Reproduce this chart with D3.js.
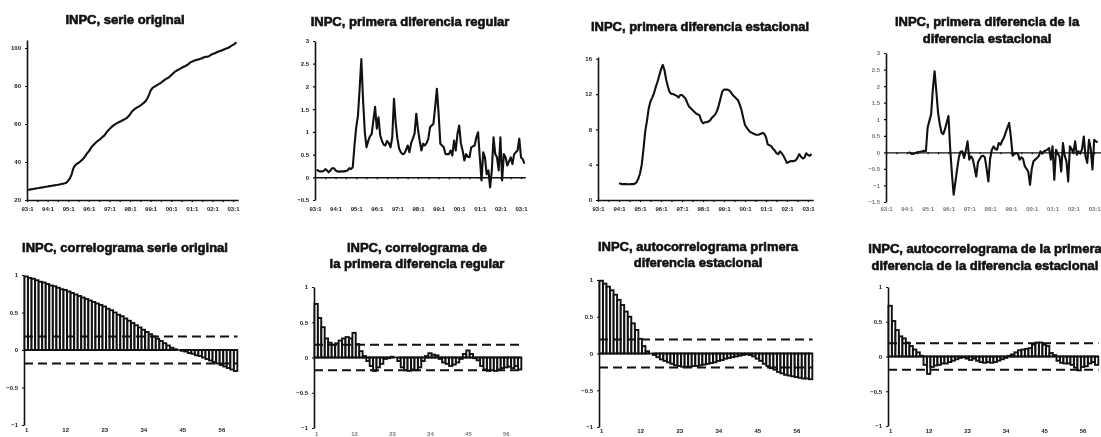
<!DOCTYPE html>
<html>
<head>
<meta charset="utf-8">
<script src="https://cdn.jsdelivr.net/npm/d3@7"></script>
<style>
  body { margin: 0; background: #fff; }
  svg { display: block; filter: grayscale(1); }
  .ttl { font: bold 13px "Liberation Sans", Arial, sans-serif; fill: #111; stroke: #111; stroke-width: 0.6px; }
  .ax text { font-family: "Liberation Sans", Arial, sans-serif; font-weight: bold; font-size: 6px; fill: #222; }
  .ax.faint text { fill: #777; }
  .ax line, .ax path { stroke: #111; }
</style>
</head>
<body>
<svg id="chart" width="1101" height="437"></svg>
<script>
// Monthly INPC, 93:1 – 03:3
const inpc = [
  25.3,25.4,25.6,25.7,25.9,26.0,26.2,26.3,26.5,26.6,26.8,27.0,
  27.1,27.3,27.4,27.6,27.7,27.9,28.0,28.2,28.4,28.6,28.8,29.1,
  30.2,31.4,33.5,36.7,38.2,39.0,39.6,40.2,41.1,42.0,43.2,44.6,
  45.6,47.0,48.3,49.2,50.1,50.9,51.6,52.4,53.2,53.9,55.2,56.3,
  57.3,58.2,59.0,59.7,60.2,60.7,61.2,61.6,62.1,62.6,63.1,63.9,
  65.1,66.4,67.3,68.1,68.6,69.1,69.7,70.4,71.1,71.9,73.3,75.2,
  77.5,78.9,79.5,80.0,80.6,81.1,81.7,82.4,83.1,83.7,84.2,84.8,
  85.7,86.6,87.4,88.0,88.5,89.0,89.5,90.0,90.4,90.9,91.5,92.3,
  92.8,93.1,93.5,93.8,94.0,94.3,94.6,95.1,95.3,95.4,95.7,96.3,
  96.8,97.1,97.5,97.9,98.3,98.6,98.9,99.3,99.7,100.0,100.5,101.1,
  101.6,102.2,103.0
];
// First regular difference, 93:2 – 03:3
const diffRegular = [
  0.17,0.14,0.13,0.13,0.14,0.18,0.15,0.11,0.15,0.2,0.2,
  0.15,0.13,0.12,0.13,0.13,0.13,0.14,0.15,0.2,0.18,0.22,0.7,
  1.1,1.35,1.95,2.6,1.7,1.0,0.66,0.8,0.9,0.95,1.25,1.55,
  1.07,1.32,0.92,0.8,0.72,0.7,0.8,0.75,0.66,0.88,1.73,1.2,
  0.85,0.63,0.55,0.51,0.52,0.6,0.7,0.55,0.75,0.85,0.96,1.4,
  1.05,0.8,0.59,0.74,0.7,0.75,0.85,1.1,1.14,1.18,1.55,1.95,
  1.4,0.74,0.7,0.66,0.51,0.51,0.51,0.59,0.48,0.81,0.59,0.96,
  1.14,0.74,0.59,0.37,0.51,0.45,0.44,0.66,0.68,0.7,0.88,0.99,
  0.44,-0.07,0.55,0.44,0.07,0.15,-0.22,0.15,0.88,0.51,0.44,0.15,
  0.88,-0.07,0.51,0.44,0.26,0.35,0.44,0.29,0.51,0.55,0.59,0.85,
  0.44,0.4,0.3
];
// First seasonal difference, 94:1 – 03:3
const diffSeasonal = [
  1.9,1.85,1.8,1.8,1.8,1.78,1.78,1.8,1.8,1.85,2.0,2.4,
  3.0,4.0,5.8,7.8,9.0,10.4,11.2,11.6,12.1,12.8,13.4,14.1,
  14.8,15.3,14.7,13.6,12.8,12.2,12.0,12.0,11.9,11.8,11.6,11.9,
  11.9,11.7,11.5,11.0,10.6,10.4,10.2,10.0,9.8,9.7,9.6,9.0,
  8.7,8.8,8.8,8.9,9.0,9.3,9.5,9.7,10.1,10.7,11.5,12.3,
  12.5,12.5,12.5,12.4,12.2,11.9,11.7,11.5,11.3,10.8,10.2,9.3,
  8.5,8.2,7.9,7.7,7.6,7.5,7.4,7.4,7.4,7.5,7.6,7.5,
  7.1,6.3,6.2,6.1,5.8,5.6,5.3,5.2,5.5,5.3,5.0,4.6,
  4.2,4.3,4.4,4.4,4.4,4.5,4.8,5.2,4.9,4.7,4.8,5.3,
  5.1,5.0,5.2
];
// First difference of the seasonal difference, 94:2 – 03:3
const diffOfSeasonal = [
  0,-0.02,-0.05,-0.04,-0.02,0,0.01,0.02,0.03,0.05,0.04,
  0.75,0.95,1.15,1.9,2.45,1.85,1.2,0.85,0.6,0.55,0.7,0.9,
  1.1,0.1,-0.65,-1.28,-0.9,-0.5,-0.15,0.02,0.03,-0.17,0.05,0.33,
  -0.22,-0.12,-0.2,-0.45,-0.73,-0.3,-0.2,-0.12,-0.1,-0.15,-0.5,-0.88,
  -0.2,0.08,0.18,0.1,0.08,0.28,0.23,0.35,0.45,0.6,0.75,0.89,
  0.45,-0.1,-0.05,-0.02,-0.04,-0.22,-0.15,-0.2,-0.42,-0.5,-0.58,-0.98,
  -0.5,-0.27,-0.22,-0.17,-0.12,0.03,-0.04,0.03,0.05,0.08,0.13,-0.22,
  0.18,-0.83,0.08,-0.05,-0.12,-0.58,0.28,-0.1,-0.27,-0.88,0.18,0.1,
  -0.02,0.33,-0.07,0.03,-0.04,0.1,0.48,-0.12,-0.32,0.38,0.1,-0.52,
  0.38,0.33,0.3
];
const yearLabels = ["93:1","94:1","95:1","96:1","97:1","98:1","99:1","00:1","01:1","02:1","03:1"];

// Autocorrelations, lags 1–60
const acfOriginal = [
  0.98,0.96,0.95,0.93,0.91,0.9,0.88,0.86,0.85,0.83,
  0.81,0.8,0.78,0.76,0.74,0.72,0.7,0.68,0.66,0.64,
  0.62,0.6,0.58,0.55,0.53,0.5,0.47,0.45,0.42,0.39,
  0.36,0.33,0.3,0.27,0.24,0.21,0.18,0.15,0.12,0.09,
  0.06,0.03,0.01,0.0,-0.01,-0.02,-0.04,-0.05,-0.07,-0.08,
  -0.1,-0.12,-0.14,-0.16,-0.18,-0.2,-0.22,-0.24,-0.26,-0.28
];
const acfDiffRegular = [
  0.76,0.56,0.43,0.27,0.21,0.18,0.2,0.24,0.27,0.29,
  0.27,0.35,0.19,0.09,0.02,-0.05,-0.12,-0.19,-0.14,-0.09,
  -0.02,-0.01,0.01,0,-0.05,-0.14,-0.18,-0.19,-0.17,-0.18,
  -0.14,-0.05,0.02,0.06,0.04,0.03,-0.02,-0.07,-0.09,-0.12,
  -0.1,-0.07,-0.02,0.05,0.1,0.05,-0.01,-0.04,-0.12,-0.17,
  -0.19,-0.18,-0.19,-0.17,-0.15,-0.14,-0.13,-0.15,-0.12,-0.17
];
const acfDiffSeasonal = [
  0.99,0.95,0.91,0.86,0.8,0.73,0.66,0.57,0.5,0.41,
  0.32,0.2,0.1,0.03,0.0,-0.02,-0.05,-0.08,-0.1,-0.12,
  -0.14,-0.16,-0.17,-0.18,-0.18,-0.18,-0.17,-0.17,-0.16,-0.15,
  -0.14,-0.13,-0.12,-0.1,-0.09,-0.07,-0.06,-0.05,-0.04,-0.03,
  -0.02,-0.01,-0.02,-0.04,-0.07,-0.1,-0.14,-0.17,-0.2,-0.22,
  -0.25,-0.27,-0.29,-0.3,-0.31,-0.32,-0.33,-0.34,-0.34,-0.35
];
const acfDiffOfSeasonal = [
  0.73,0.51,0.38,0.29,0.26,0.2,0.15,0.1,0.06,0.01,
  -0.12,-0.25,-0.15,-0.13,-0.12,-0.1,-0.1,-0.08,-0.06,-0.04,
  -0.02,-0.01,-0.03,-0.05,-0.03,-0.06,-0.08,-0.09,-0.08,-0.09,
  -0.08,-0.06,-0.04,-0.02,0.01,0.03,0.06,0.09,0.1,0.11,
  0.12,0.17,0.2,0.2,0.17,0.15,0.05,0.02,-0.06,-0.09,
  -0.1,-0.1,-0.12,-0.16,-0.2,-0.15,-0.14,-0.1,-0.08,-0.12
];
const confidenceBands = [0.18, 0.18, 0.19, 0.19];
const lagLabels = [1, 12, 23, 34, 45, 56];

const svg = d3.select("#chart");
const ink = "#111";

function drawTitle(lines, cx, y0, lh) {
  lines.forEach((s, i) => {
    svg.append("text").attr("class", "ttl")
      .attr("x", cx).attr("y", y0 + i * lh)
      .attr("text-anchor", "middle").text(s);
  });
}

// ---- time-series panels ----
function linePanel(p) {
  const x = d3.scaleLinear().domain([0, p.tEnd]).range([p.xa, p.xa + p.tEnd * p.k]);
  const y = d3.scaleLinear().domain(p.yDomain).range(p.yRange);
  const g = svg.append("g");

  // vertical axis
  const ya = g.append("g").attr("class", "ax" + (p.faint ? " faint" : ""))
    .attr("transform", `translate(${p.xa},0)`)
    .call(d3.axisLeft(y).tickValues(p.yTicks).tickSize(2).tickSizeOuter(0).tickPadding(4)
      .tickFormat(d3.format(p.fmt)));
  ya.select(".domain").attr("stroke-width", 1.6);
  ya.selectAll(".tick line").attr("stroke-width", 1.2);

  // horizontal axis line with half-year ticks
  const months = d3.range(0, p.tEnd, 6);
  const xa = g.append("g").attr("class", "ax")
    .attr("transform", `translate(0,${y(p.baseValue)})`)
    .call(d3.axisBottom(x).tickValues(months).tickSize(2).tickSizeOuter(0).tickFormat(""));
  xa.select(".domain").attr("stroke-width", 1.4);
  xa.selectAll(".tick line").attr("stroke-width", 1.2);

  // year labels along the bottom
  const lbl = g.append("g").attr("class", "ax" + (p.faint ? " faint" : ""))
    .attr("transform", `translate(0,${p.labelY})`)
    .call(d3.axisBottom(x).tickValues(yearLabels.map((_, i) => i * 12)).tickSize(0).tickPadding(0)
      .tickFormat((d, i) => yearLabels[i]));
  lbl.select(".domain").remove();

  const line = d3.line()
    .x((d, i) => x(p.start + i))
    .y(d => y(d));
  g.append("path").datum(p.data)
    .attr("fill", "none").attr("stroke", ink).attr("stroke-width", 2.1)
    .attr("stroke-linejoin", "round").attr("d", line);
}

linePanel({ data: inpc, start: 0, xa: 27, k: 1.7167, tEnd: 123,
  yDomain: [20, 104.2], yRange: [200, 40], yTicks: [20, 40, 60, 80, 100], fmt: "d",
  baseValue: 20, labelY: 207 });
linePanel({ data: diffRegular, start: 1, xa: 315, k: 1.7167, tEnd: 122.5,
  yDomain: [-0.5, 3], yRange: [200, 41], yTicks: d3.range(-0.5, 3.01, 0.5), fmt: "~g",
  baseValue: 0, labelY: 207 });
linePanel({ data: diffSeasonal, start: 12, xa: 598, k: 1.75, tEnd: 123,
  yDomain: [0, 16.2], yRange: [200, 57], yTicks: [0, 4, 8, 12, 16], fmt: "d",
  baseValue: 0, labelY: 207 });
linePanel({ data: diffOfSeasonal, start: 13, xa: 886, k: 1.735, tEnd: 124,
  yDomain: [-1.5, 3], yRange: [202, 53], yTicks: d3.range(-1.5, 3.01, 0.5), fmt: "~g",
  baseValue: 0, labelY: 207, faint: true });

drawTitle(["INPC, serie original"], 125, 24, 17);
drawTitle(["INPC, primera diferencia regular"], 410, 26, 17);
drawTitle(["INPC, primera diferencia estacional"], 700, 31, 17);
drawTitle(["INPC, primera diferencia de la", "diferencia estacional"], 987, 26, 17);

// ---- correlogram panels ----
function acfPanel(p) {
  const n = p.data.length;
  const x = d3.scaleLinear().domain([1, n]).range([p.ax + 0.5, p.ax + 0.5 + (n - 1) * p.step]);
  const y = d3.scaleLinear().domain([-1, 1]).range([p.yNeg, p.yPos]);
  const xEnd = x(n) + p.step;
  const g = svg.append("g");

  const ya = g.append("g").attr("class", "ax")
    .attr("transform", `translate(${p.ax},0)`)
    .call(d3.axisLeft(y).tickValues([-1, -0.5, 0, 0.5, 1]).tickSize(2).tickSizeOuter(0).tickPadding(4)
      .tickFormat(d3.format("~g")));
  ya.select(".domain").attr("stroke-width", 1.6);

  g.selectAll("rect.bar").data(p.data).join("rect")
    .attr("class", "bar")
    .attr("x", (d, i) => x(i + 1))
    .attr("width", p.step * 0.95)
    .attr("y", d => y(Math.max(0, d)))
    .attr("height", d => Math.abs(y(d) - y(0)))
    .attr("fill", "#fff").attr("stroke", ink).attr("stroke-width", 1.9);

  // zero line
  g.append("line").attr("x1", p.ax).attr("x2", xEnd).attr("y1", y(0)).attr("y2", y(0))
    .attr("stroke", ink).attr("stroke-width", 1.6);

  // significance bands
  [p.band, -p.band].forEach(b => {
    g.append("line").attr("x1", p.ax).attr("x2", xEnd).attr("y1", y(b)).attr("y2", y(b))
      .attr("stroke", ink).attr("stroke-width", 2).attr("stroke-dasharray", "9,5");
  });

  const lbl = g.append("g").attr("class", "ax" + (p.faint ? " faint" : ""))
    .attr("transform", `translate(${p.step * 0.46},${p.labelY})`)
    .call(d3.axisBottom(x).tickValues(lagLabels).tickSize(0).tickPadding(0));
  lbl.select(".domain").remove();
}

acfPanel({ data: acfOriginal, band: confidenceBands[0], ax: 24, step: 3.55,
  yPos: 275, yNeg: 425, labelY: 428 });
acfPanel({ data: acfDiffRegular, band: confidenceBands[1], ax: 314, step: 3.45,
  yPos: 287, yNeg: 428, labelY: 432, faint: true });
acfPanel({ data: acfDiffSeasonal, band: confidenceBands[2], ax: 599, step: 3.55,
  yPos: 280, yNeg: 427, labelY: 429 });
acfPanel({ data: acfDiffOfSeasonal, band: confidenceBands[3], ax: 888, step: 3.5,
  yPos: 287, yNeg: 426, labelY: 429 });

drawTitle(["INPC, correlograma serie original"], 125, 252, 17);
drawTitle(["INPC, correlograma de", "la primera diferencia regular"], 417, 252, 16);
drawTitle(["INPC, autocorrelograma primera", "diferencia estacional"], 698, 251, 16);
drawTitle(["INPC, autocorrelograma de la primera", "diferencia de la diferencia estacional"], 985, 253, 17);
</script>
</body>
</html>
